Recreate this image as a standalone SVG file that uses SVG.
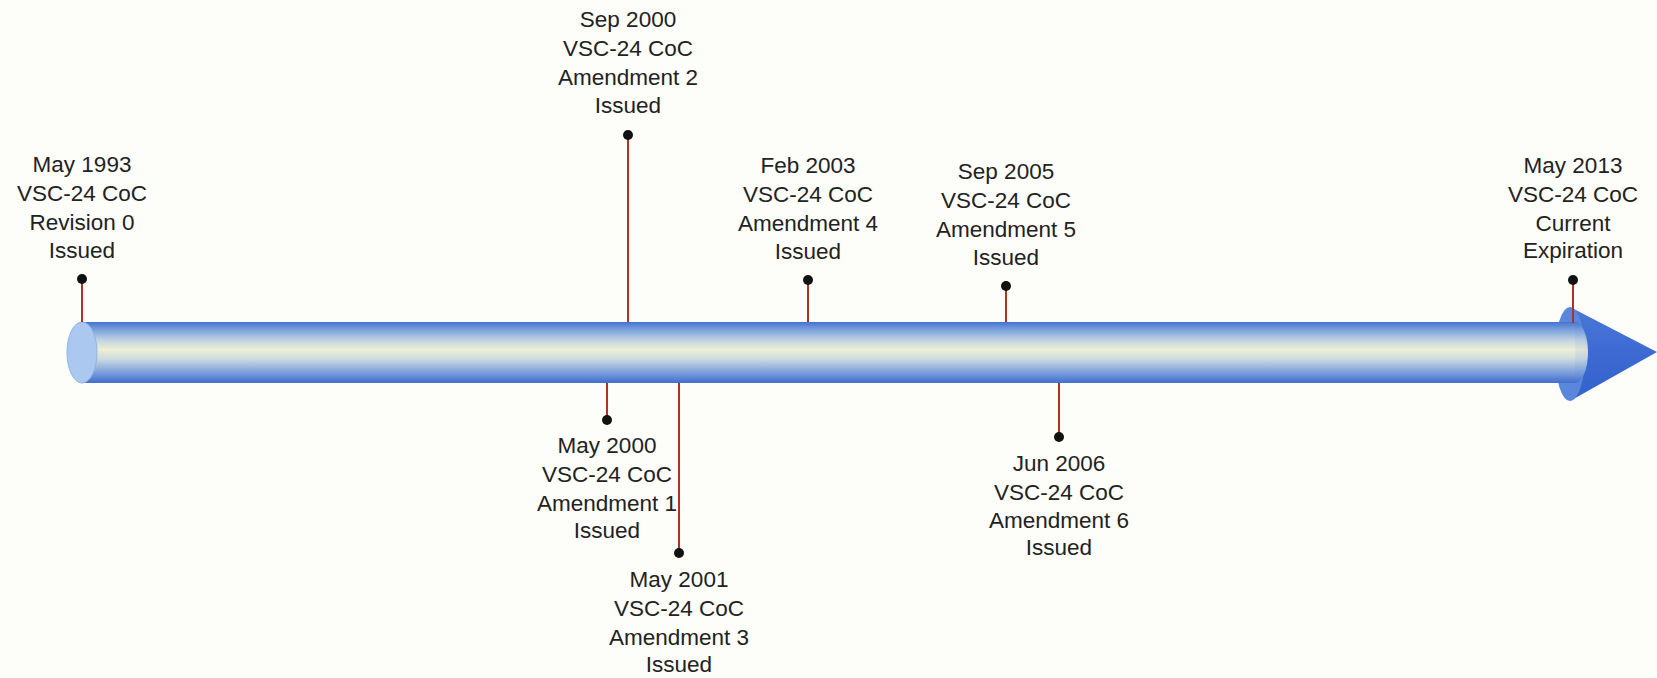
<svg xmlns="http://www.w3.org/2000/svg" width="1657" height="678" viewBox="0 0 1657 678">
<defs>
<linearGradient id="tube" x1="0" y1="0" x2="0" y2="1">
<stop offset="0" stop-color="#4472d2"/>
<stop offset="0.1" stop-color="#6f98da"/>
<stop offset="0.3" stop-color="#c2d4e2"/>
<stop offset="0.45" stop-color="#ecefd4"/>
<stop offset="0.6" stop-color="#cfdce0"/>
<stop offset="0.8" stop-color="#84a6dc"/>
<stop offset="1" stop-color="#406dd0"/>
</linearGradient>
<linearGradient id="cone" x1="0" y1="0" x2="0" y2="1">
<stop offset="0" stop-color="#4a78d8"/>
<stop offset="0.5" stop-color="#3c6ad2"/>
<stop offset="1" stop-color="#3462cc"/>
</linearGradient>
<style>
.lbl{font-family:"Liberation Sans",Arial,sans-serif;font-size:22.5px;fill:#222;text-anchor:middle}
.stem{stroke:#b0321f;stroke-width:2;fill:none}
.dot{fill:#111}
</style>
</defs>
<rect width="1657" height="678" fill="#fdfdf9"/>
<g id="timeline">
<path d="M1570,307 L1657,352 L1570,401 Z" fill="url(#cone)"/>
<ellipse cx="1570" cy="354" rx="15" ry="47" fill="#5a86dc"/>
<rect x="82" y="322" width="1493" height="61" fill="url(#tube)"/>
<ellipse cx="1575" cy="352.5" rx="13" ry="30.5" fill="url(#tube)" opacity="0.9"/>
<ellipse cx="82" cy="352.5" rx="15" ry="30.5" fill="#aac8f0" stroke="#8fb2e6" stroke-width="1"/>
</g>
<g id="connectors">
<line class="stem" x1="82" y1="279" x2="82" y2="322"/>
<line class="stem" x1="628" y1="135" x2="628" y2="322"/>
<line class="stem" x1="808" y1="280" x2="808" y2="322"/>
<line class="stem" x1="1006" y1="286" x2="1006" y2="322"/>
<line class="stem" x1="1573" y1="280" x2="1573" y2="323"/>
<line class="stem" x1="607" y1="383" x2="607" y2="420"/>
<line class="stem" x1="679" y1="383" x2="679" y2="553"/>
<line class="stem" x1="1059" y1="383" x2="1059" y2="437"/>
</g>
<g id="ev1993">
<circle class="dot" cx="82" cy="279" r="5"/>
<text class="lbl" x="82" y="172">May 1993</text>
<text class="lbl" x="82" y="201">VSC-24 CoC</text>
<text class="lbl" x="82" y="230">Revision 0</text>
<text class="lbl" x="82" y="258">Issued</text>
</g>
<g id="ev2000sep">
<circle class="dot" cx="628" cy="135" r="5"/>
<text class="lbl" x="628" y="27">Sep 2000</text>
<text class="lbl" x="628" y="56">VSC-24 CoC</text>
<text class="lbl" x="628" y="85">Amendment 2</text>
<text class="lbl" x="628" y="113">Issued</text>
</g>
<g id="ev2003">
<circle class="dot" cx="808" cy="280" r="5"/>
<text class="lbl" x="808" y="173">Feb 2003</text>
<text class="lbl" x="808" y="202">VSC-24 CoC</text>
<text class="lbl" x="808" y="231">Amendment 4</text>
<text class="lbl" x="808" y="259">Issued</text>
</g>
<g id="ev2005">
<circle class="dot" cx="1006" cy="286" r="5"/>
<text class="lbl" x="1006" y="179">Sep 2005</text>
<text class="lbl" x="1006" y="208">VSC-24 CoC</text>
<text class="lbl" x="1006" y="237">Amendment 5</text>
<text class="lbl" x="1006" y="265">Issued</text>
</g>
<g id="ev2013">
<circle class="dot" cx="1573" cy="280" r="5"/>
<text class="lbl" x="1573" y="173">May 2013</text>
<text class="lbl" x="1573" y="202">VSC-24 CoC</text>
<text class="lbl" x="1573" y="231">Current</text>
<text class="lbl" x="1573" y="258">Expiration</text>
</g>
<g id="ev2000may">
<circle class="dot" cx="607" cy="420" r="5"/>
<text class="lbl" x="607" y="453">May 2000</text>
<text class="lbl" x="607" y="482">VSC-24 CoC</text>
<text class="lbl" x="607" y="511">Amendment 1</text>
<text class="lbl" x="607" y="538">Issued</text>
</g>
<g id="ev2001">
<circle class="dot" cx="679" cy="553" r="5"/>
<text class="lbl" x="679" y="587">May 2001</text>
<text class="lbl" x="679" y="616">VSC-24 CoC</text>
<text class="lbl" x="679" y="645">Amendment 3</text>
<text class="lbl" x="679" y="672">Issued</text>
</g>
<g id="ev2006">
<circle class="dot" cx="1059" cy="437" r="5"/>
<text class="lbl" x="1059" y="471">Jun 2006</text>
<text class="lbl" x="1059" y="500">VSC-24 CoC</text>
<text class="lbl" x="1059" y="528">Amendment 6</text>
<text class="lbl" x="1059" y="555">Issued</text>
</g>
</svg>
